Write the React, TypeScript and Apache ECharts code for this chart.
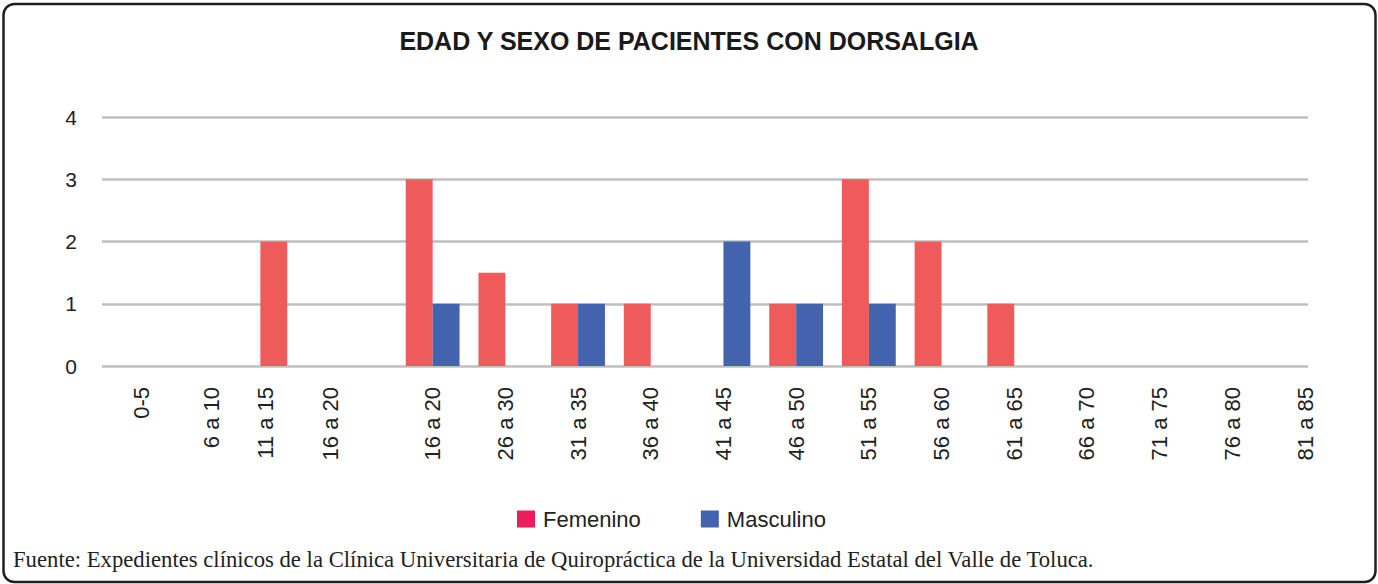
import React, { useEffect, useRef } from "react";
import * as echarts from "echarts";

const TITLE = "EDAD Y SEXO DE PACIENTES CON DORSALGIA";
const SOURCE =
  "Fuente: Expedientes clínicos de la Clínica Universitaria de Quiropráctica de la Universidad Estatal del Valle de Toluca.";

const categories = [
  "0-5",
  "6 a 10",
  "11 a 15",
  "16 a 20",
  "16 a 20",
  "26 a 30",
  "31 a 35",
  "36 a 40",
  "41 a 45",
  "46 a 50",
  "51 a 55",
  "56 a 60",
  "61 a 65",
  "66 a 70",
  "71 a 75",
  "76 a 80",
  "81 a 85",
];
const femenino = [0, 0, 2, 0, 3, 1.5, 1, 1, 0, 1, 3, 2, 1, 0, 0, 0, 0];
const masculino = [0, 0, 0, 0, 1, 0, 1, 0, 2, 1, 1, 0, 0, 0, 0, 0, 0];
const yTicks = [0, 1, 2, 3, 4];

// label nudges (screen px to the left) seen in the reference
const labelShift: Record<number, number> = { 1: 3, 2: 22, 3: 29 };

const FONT = "'Liberation Sans', Arial, sans-serif";
const LABEL_SIZE = 22;

export default function App() {
  const ref = useRef<HTMLDivElement>(null);
  useEffect(() => {
    if (!ref.current) return;
    const chart = echarts.init(ref.current, undefined, { renderer: "svg" });
    const yMin = yTicks[0];
    const yMax = yTicks[yTicks.length - 1];
    const rich: Record<string, any> = {
      n: { fontFamily: FONT, fontSize: LABEL_SIZE, color: "#222" },
    };
    Object.keys(labelShift).forEach((k) => {
      rich["s" + k] = {
        fontFamily: FONT,
        fontSize: LABEL_SIZE,
        color: "#222",
        padding: [0, 0, labelShift[+k] * 2, 0],
      };
    });
    chart.setOption({
      animation: false,
      backgroundColor: "#ffffff",
      title: {
        text: TITLE,
        left: "center",
        top: 23,
        textStyle: { fontFamily: FONT, fontSize: 25, fontWeight: "bold", color: "#1a1a1a" },
      },
      legend: {
        left: 512,
        top: 503,
        itemWidth: 18,
        itemHeight: 17,
        itemGap: 60,
        icon: "rect",
        textStyle: { fontFamily: FONT, fontSize: 22, color: "#222", padding: [0, 0, 0, 3] },
        data: [
          { name: "Femenino", itemStyle: { color: "#ED1C5B" } },
          { name: "Masculino", itemStyle: { color: "#4462AE" } },
        ],
      },
      grid: [
        { left: 102, right: 70, top: 117, bottom: 218, containLabel: false },
        { left: 105.5, width: 72.7 * categories.length, top: 117, bottom: 218, containLabel: false },
      ],
      xAxis: [
        { type: "value", gridIndex: 0, show: false, min: 0, max: 1 },
        {
          type: "category",
          gridIndex: 1,
          data: categories,
          axisLine: { show: false },
          axisTick: { show: false },
          axisLabel: {
            rotate: 90,
            interval: 0,
            margin: 21,
            fontFamily: FONT,
            fontSize: LABEL_SIZE,
            color: "#222",
            formatter: (v: string, i: number) =>
              labelShift[i] ? `{s${i}|${v}}` : `{n|${v}}`,
            rich,
          },
        },
      ],
      yAxis: [
        {
          type: "value",
          gridIndex: 0,
          min: yMin,
          max: yMax,
          interval: 1,
          axisLine: { show: false },
          axisTick: { show: false },
          axisLabel: { margin: 25, fontFamily: FONT, fontSize: 21, color: "#222" },
          splitLine: { lineStyle: { color: "#BFBFBF", width: 2.5 } },
        },
        {
          type: "value",
          gridIndex: 1,
          min: yMin,
          max: yMax,
          interval: 1,
          show: false,
          splitLine: { show: false },
        },
      ],
      series: [
        {
          name: "Femenino",
          type: "bar",
          xAxisIndex: 1,
          yAxisIndex: 1,
          data: femenino,
          barGap: "0%",
          barCategoryGap: "26%",
          itemStyle: { color: "#EF5A5B" },
        },
        {
          name: "Masculino",
          type: "bar",
          xAxisIndex: 1,
          yAxisIndex: 1,
          data: masculino,
          barGap: "0%",
          barCategoryGap: "26%",
          itemStyle: { color: "#4363AE" },
        },
      ],
      graphic: [
        {
          type: "rect",
          silent: true,
          shape: { x: 3.5, y: 4, width: 1372, height: 578, r: 11 },
          style: { fill: "none", stroke: "#1f1f1f", lineWidth: 2.5 },
          z: 100,
        },
        {
          type: "text",
          left: 13,
          top: 548,
          style: {
            text: SOURCE,
            fontFamily: "'Liberation Serif', 'Times New Roman', serif",
            fontSize: 22.7,
            fill: "#222",
          },
        },
      ],
    });
    return () => chart.dispose();
  }, []);
  return (
    <div
      ref={ref}
      style={{ position: "fixed", left: 0, top: 0, width: 1378, height: 584, background: "#fff" }}
    />
  );
}
